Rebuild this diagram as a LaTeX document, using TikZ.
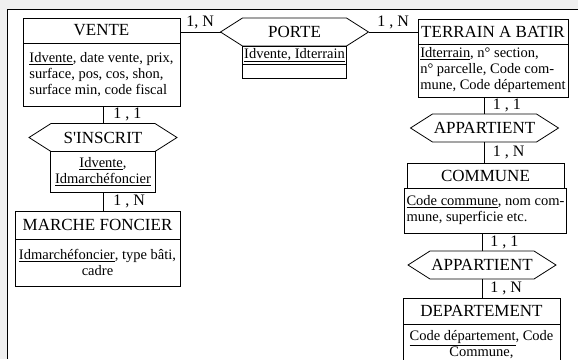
\documentclass[tikz,border=0pt]{standalone}
\usepackage{fontspec}
\setmainfont{Liberation Serif}
\usetikzlibrary{calc,positioning}
\newcommand{\hexrel}[3]
	{
	\node[assoctext] (#1) at (#2) {#3};
	\coordinate (#1-n) at ($(#1)+(0,-14)$);
	\coordinate (#1-s) at ($(#1)+(0,14)$);
	\coordinate (#1-w) at ($(#1)+(-74,0)$);
	\coordinate (#1-e) at ($(#1)+(74,0)$);
	\draw[boxline] (#1-w) -- ($(#1-w)+(22,-14)$) -- ($(#1-e)+(-22,-14)$) -- (#1-e) -- ($(#1-e)+(-22,14)$) -- ($(#1-w)+(22,14)$) -- cycle;%hexagone
	}

\begin{document}
\begin{tikzpicture}[x=1pt,y=-1pt,
    boxline/.style={line width=0.8pt},
    titre/.style={draw, line width=0.8pt, outer sep=0pt, inner sep=1pt, minimum height=25, font=\fontsize{17}{19}\selectfont},
    attr/.style={draw, line width=0.8pt, outer sep=0pt, inner sep=2pt, align=left, font=\fontsize{14.5}{16}\selectfont},
    card/.style={inner sep=1pt, font=\fontsize{16}{18}\selectfont},
    assoctext/.style={inner sep=1pt, font=\fontsize{17}{19}\selectfont}]
    \useasboundingbox (0,0) rectangle (578,359);
    \fill[black!6] (0,0) rectangle (578,359);
    \fill[white] (7,9) rectangle (578,359);
    \draw[line width=0.8pt] (578,9) -- (7,9) -- (7,359);
    % entites
    \node[titre, minimum width=157] (vente) at (101.5,30.5) {VENTE};
    \node[attr, minimum width=157, minimum height=63, below=0pt of vente] (vente-att) {\underline{Idvente}, date vente, prix,\\ surface, pos, cos, shon,\\ surface min, code fiscal};
    \node[titre, minimum width=150] (terrain) at (493,31.5) {TERRAIN A BATIR};
    \node[attr, minimum width=150, minimum height=53, below=0pt of terrain] (terrain-att) {\underline{Idterrain}, n° section,\\ n° parcelle, Code com-\\ mune, Code département};
    \node[titre, minimum width=157] (commune) at (485.5,175.5) {COMMUNE};
    \node[attr, minimum width=157, minimum height=45, below=0pt of commune] (commune-att) {\underline{Code commune}, nom com-\\ mune, superficie etc.};
    \node[titre, minimum width=157, minimum height=26] (departement) at (481.5,311) {DEPARTEMENT};
    \node[attr, align=center, minimum width=157, minimum height=42, below=0pt of departement] (departement-att) {\underline{Code département}, Code\\ Commune,};
    \node[titre, minimum width=165, minimum height=28] (marche) at (97.5,225) {MARCHE FONCIER};
    \node[attr, align=center, minimum width=165, minimum height=47, below=0pt of marche] (marche-att) {\underline{Idmarchéfoncier}, type bâti,\\ cadre};
    % associations
    \hexrel{porte}{294.5,32}{PORTE}
    \node[attr, minimum width=104, minimum height=18, below=0pt of porte-s] (porte-att) {\underline{Idvente, Idterrain}};
    \draw[boxline] (porte-att.south west) rectangle ++(104,14);
    \hexrel{sinscrit}{103,137.5}{S\textquotesingle INSCRIT}
    \node[attr, align=center, minimum width=105, minimum height=41, below=0pt of sinscrit-s] (sinscrit-att) {\underline{Idvente},\\ \underline{Idmarchéfoncier}};
    \hexrel{app1}{484.5,128}{APPARTIENT}
    \hexrel{app2}{482,265}{APPARTIENT}
    % liens
    \draw[boxline] (porte-w) -- (porte-w -| vente.east) node[card, midway, above=2pt] {1, N};
    \draw[boxline] (porte-e) -- (porte-e -| terrain.west) node[card, midway, above=2pt] {1 , N};
    \draw[boxline] (sinscrit-n) -- (sinscrit-n |- vente-att.south) node[card, midway, right=9pt] {1 , 1};
    \draw[boxline] (sinscrit-att.south) -- (sinscrit-att.south |- marche.north) node[card, midway, right=9pt] {1 , N};
    \foreach \a/\b/\c in {app1-n/terrain-att.south/{1 , 1}, app1-s/commune.north/{1 , N}, app2-n/commune-att.south/{1 , 1}, app2-s/departement.north/{1 , N}}
        \draw[boxline] (\a) -- (\a |- \b) node[card, midway, right=7pt] {\c};
\end{tikzpicture}
\end{document}
